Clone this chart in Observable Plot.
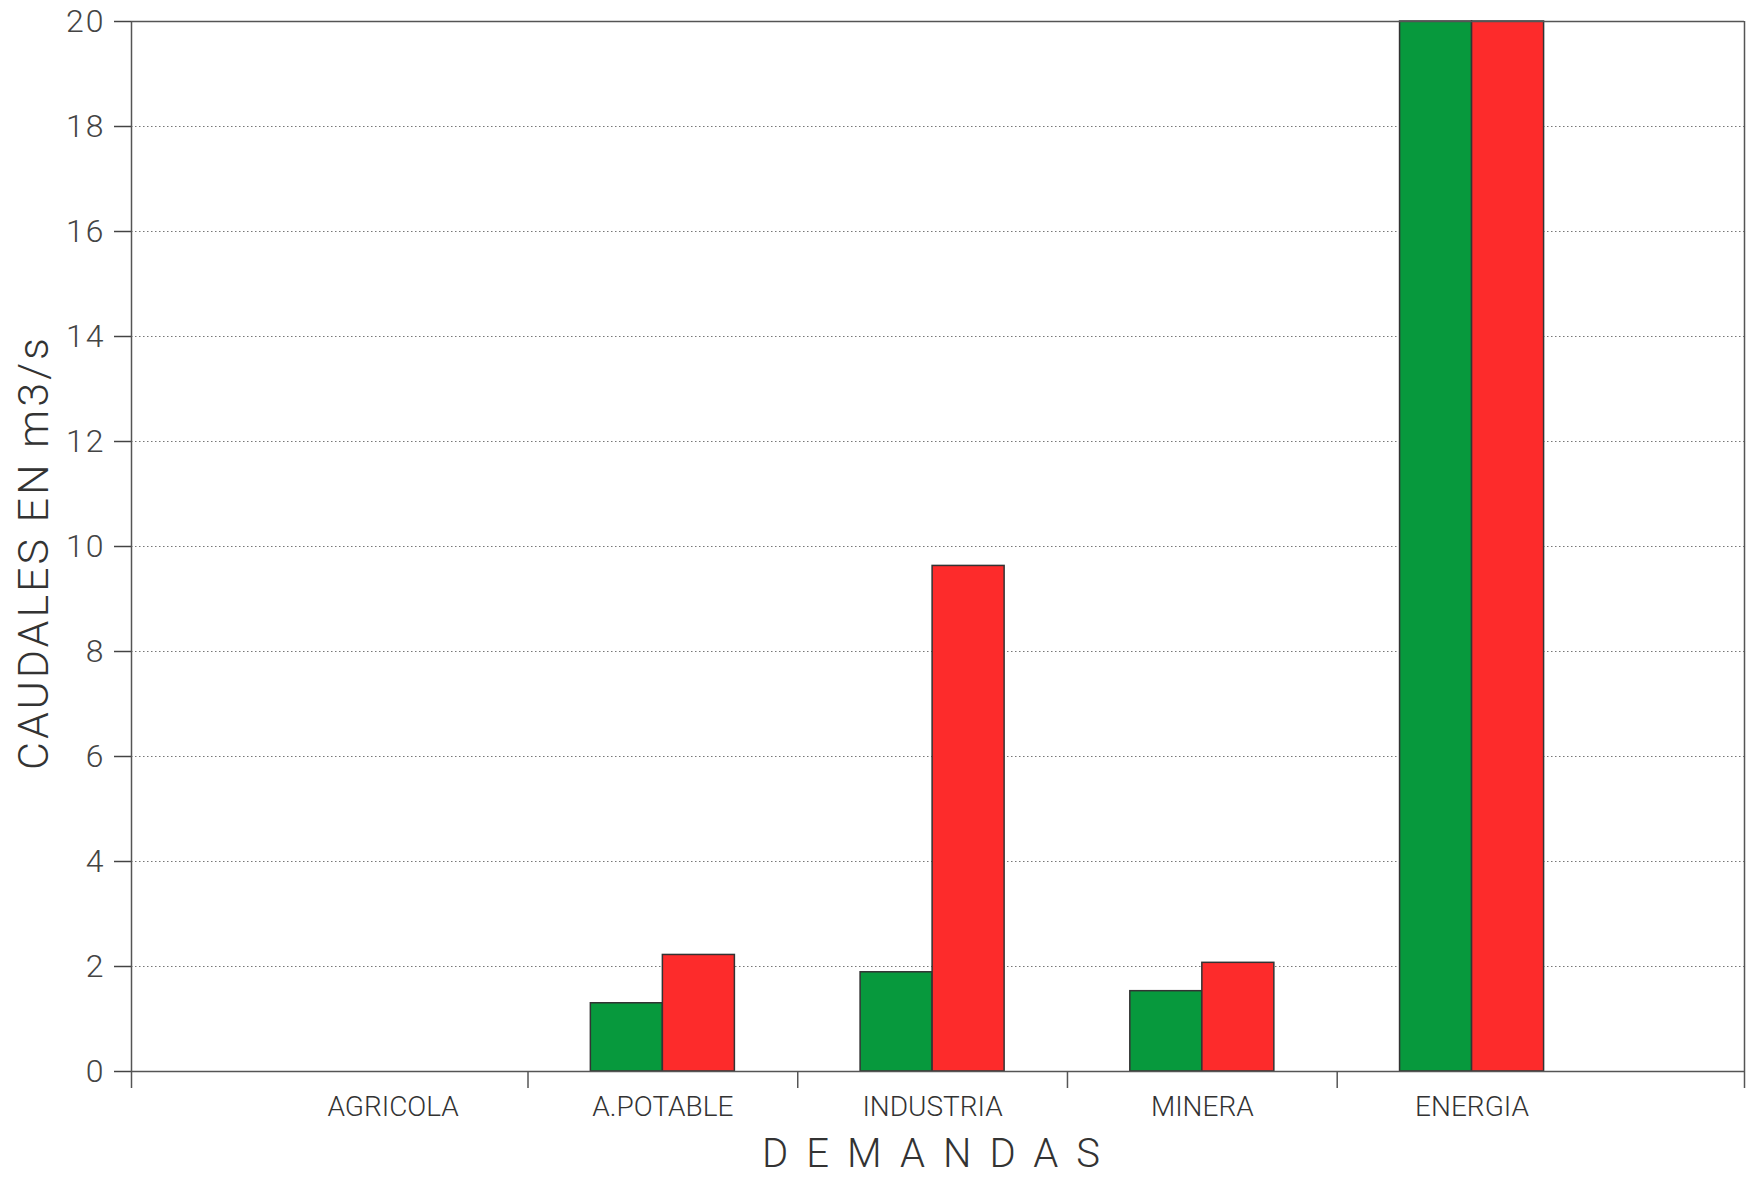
<!DOCTYPE html>
<html>
<head>
<meta charset="utf-8">
<script src="https://cdn.jsdelivr.net/npm/d3@7"></script>
<script src="https://cdn.jsdelivr.net/npm/@observablehq/plot@0.6"></script>
<style>
  html, body { margin: 0; padding: 0; background: #fff; }
  #chart svg { display: block; }
</style>
</head>
<body>
<div id="chart"></div>
<script>
// ---- data ----
const categories = ["AGRICOLA", "A.POTABLE", "INDUSTRIA", "MINERA", "ENERGIA"];
const seriesNames = ["verde", "rojo"];
const verde = [0, 1.30, 1.89, 1.53, 20];
const rojo  = [0, 2.22, 9.63, 2.07, 20];
const yTicks = [0, 2, 4, 6, 8, 10, 12, 14, 16, 18, 20];
const gridValues = [2, 4, 6, 8, 10, 12, 14, 16, 18];
const yLabel = "CAUDALES EN m3/s";
const xLabel = "DEMANDAS";
const colors = {verde: "#07993d", rojo: "#fd2b2b"};

// ---- derived table ----
const xMin = 0.03, xMax = 6.01;
const halfW = 0.267;
const table = [];
categories.forEach((c, i) => {
  const pos = i + 1;
  if (verde[i] > 0) table.push({cat: c, series: "verde", value: verde[i], x1: pos - halfW, x2: pos});
  if (rojo[i] > 0) table.push({cat: c, series: "rojo", value: rojo[i], x1: pos, x2: pos + halfW});
});
const catPos = categories.map((c, i) => ({cat: c, pos: i + 1}));
const sepTicks = [xMin, ...categories.slice(1).map((c, i) => i + 1.5), xMax];

const chart = Plot.plot({
  width: 1747,
  height: 1177,
  marginLeft: 131,
  marginRight: 3,
  marginTop: 21,
  marginBottom: 106,
  x: {domain: [xMin, xMax], axis: null},
  y: {domain: [0, 20], axis: null},
  style: {fontFamily: "Roboto, 'Liberation Sans', sans-serif", background: "#fff"},
  marks: [
    Plot.ruleY(gridValues, {stroke: "#777", strokeWidth: 1, strokeDasharray: "1.5,2.5"}),
    Plot.rectY(table, {
      x1: "x1", x2: "x2", y1: 0, y2: "value",
      fill: d => colors[d.series],
      stroke: "#333", strokeWidth: 1.5
    }),
    Plot.ruleY([0, 20], {stroke: "#555", strokeWidth: 1.5}),
    Plot.ruleX([xMin, xMax], {y1: 0, y2: 20, stroke: "#555", strokeWidth: 1.5}),
    Plot.axisY({
      ticks: yTicks, tickSize: 17, tickPadding: 9,
      fontSize: 32, fontWeight: 300, color: "#444", strokeWidth: 1.5,
      label: null
    }),
    Plot.axisX({
      ticks: sepTicks, tickSize: 17, tickFormat: () => "",
      color: "#555", strokeWidth: 1.5, label: null
    }),
    Plot.text(catPos, {
      x: "pos", text: "cat", frameAnchor: "bottom", dy: 36,
      lineAnchor: "middle", fontSize: 28, fontWeight: 300, fill: "#333"
    }),
    Plot.text([xLabel], {
      text: d => d, frameAnchor: "bottom", dx: 2, dy: 83,
      lineAnchor: "middle", fontSize: 40, fontWeight: 300, fill: "#333"
    }),
    Plot.text([yLabel], {
      text: d => d, frameAnchor: "left", dx: -97, dy: 6, rotate: -90,
      lineAnchor: "middle", textAnchor: "middle", fontSize: 43, fontWeight: 300, fill: "#333"
    })
  ]
});
document.getElementById("chart").appendChild(chart);

// letter spacing for the titles and tick labels
d3.select(chart).selectAll("text").each(function() {
  const t = this.textContent;
  if (t === xLabel) this.style.letterSpacing = "18px";
  else if (t === yLabel) this.style.letterSpacing = "3px";
  else if (yTicks.map(String).includes(t)) this.style.letterSpacing = "2px";
});
</script>
</body>
</html>
